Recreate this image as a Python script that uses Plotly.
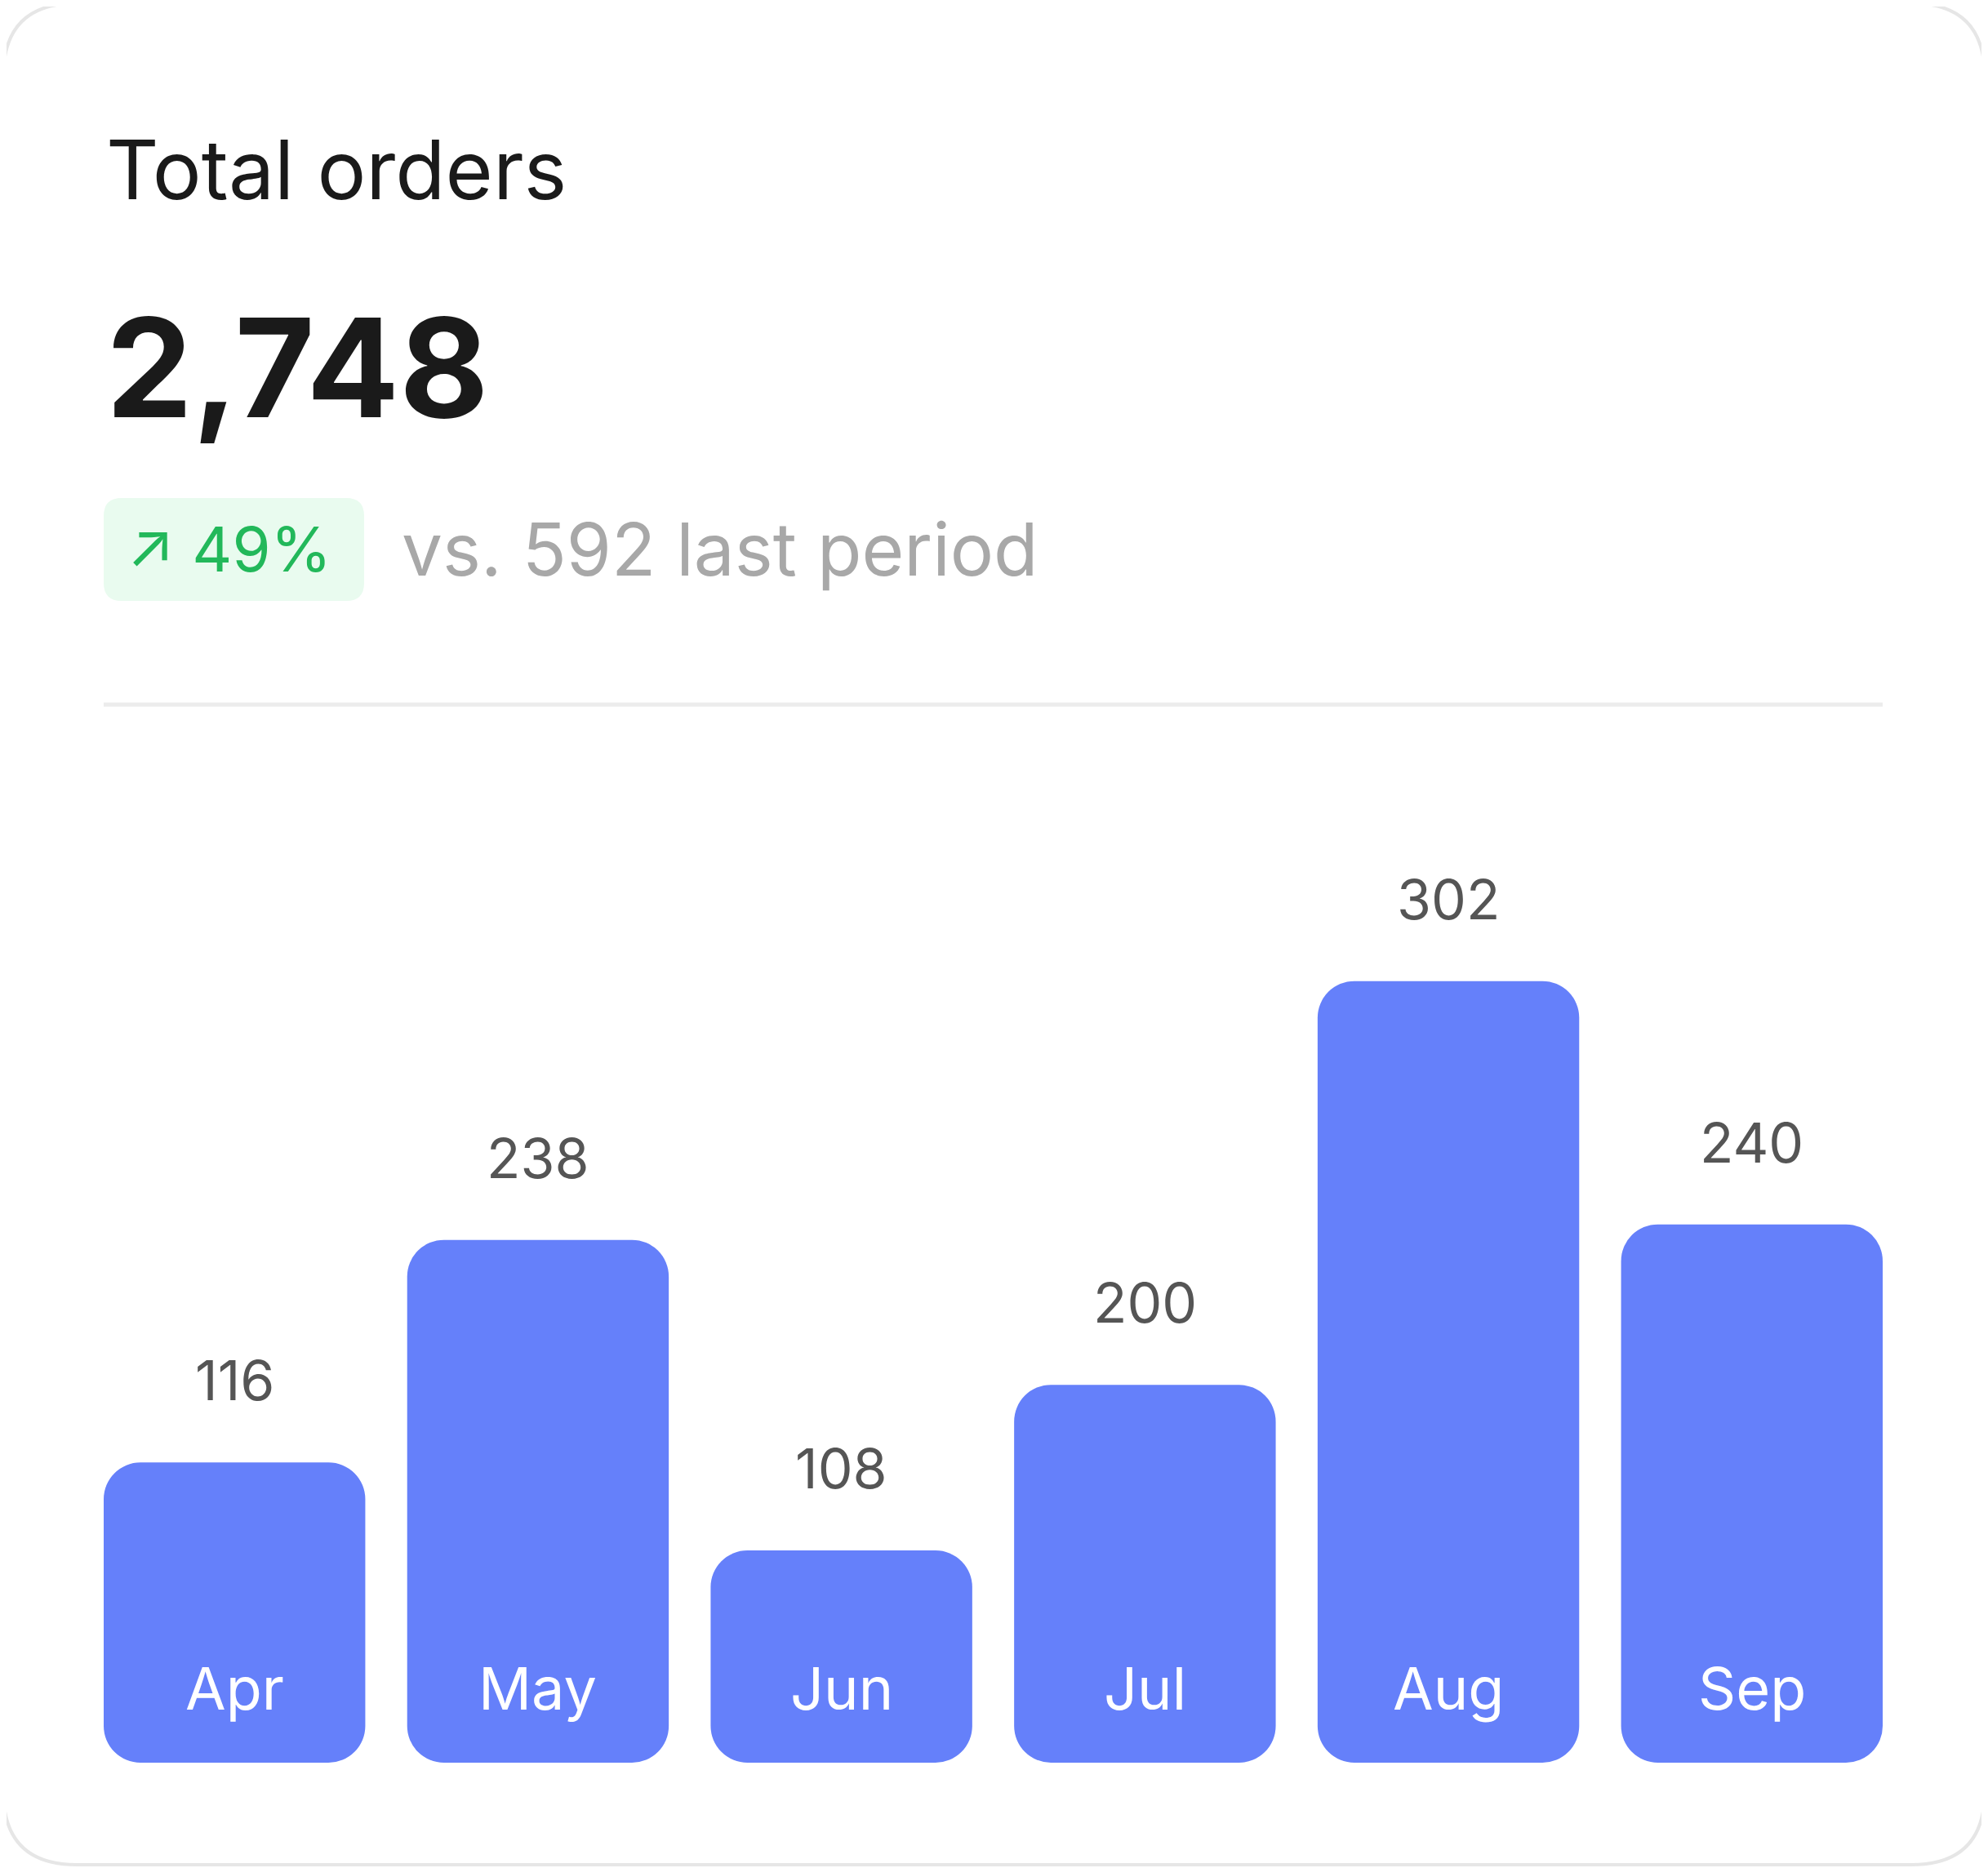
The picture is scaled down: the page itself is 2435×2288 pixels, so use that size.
import plotly.graph_objects as go

months = ["Apr", "May", "Jun", "Jul", "Aug", "Sep"]
orders = [116, 238, 108, 200, 302, 240]
# drawn bar heights as they appear in the picture (same units as the Aug bar)
bar_heights = [116, 202, 82, 146, 302, 208]
total_label = "2,748"
change_label = "↗ 49%"
compare_label = "vs. 592 last period"

W, H = 2435, 2288
OFF = 8  # page margin compensation
BLUE = "#6580fa"

fig = go.Figure()
fig.add_trace(go.Bar(x=months, y=bar_heights, base=[0] * len(months),
                     marker=dict(color=BLUE, cornerradius=45, line=dict(width=0)),
                     hoverinfo="skip"))

def px(x):
    return (x - OFF) / W

def py(y):
    return 1 - (y - OFF) / H

ann = []
for m, v, h in zip(months, orders, bar_heights):
    ann.append(dict(x=m, y=h, text=str(v), showarrow=False, yanchor="bottom", yshift=58,
                    font=dict(family="Inter", size=68, color="#555555")))
    ann.append(dict(x=m, y=29, text=m, showarrow=False, yanchor="middle",
                    font=dict(family="Inter", size=72, color="white")))

ann += [
    dict(xref="paper", yref="paper", x=px(128), y=py(207), text="Total orders",
         xanchor="left", yanchor="middle", showarrow=False,
         font=dict(family="Inter", size=100, color="#1a1a1a")),
    dict(xref="paper", yref="paper", x=px(128), y=py(450), text="<b>" + total_label + "</b>",
         xanchor="left", yanchor="middle", showarrow=False,
         font=dict(family="Inter", size=168, color="#1a1a1a")),
    dict(xref="paper", yref="paper", x=px(280), y=py(672), text=change_label,
         xanchor="center", yanchor="middle", showarrow=False,
         font=dict(family="Inter", size=76, color="#22b85a")),
    dict(xref="paper", yref="paper", x=px(490), y=py(672), text=compare_label,
         xanchor="left", yanchor="middle", showarrow=False,
         font=dict(family="Inter", size=89, color="#a8a8a8")),
]

def rrect(x0, y0, x1, y1, r):
    rx, ry = r / W, r / H
    X0, X1 = px(x0), px(x1)
    Y0, Y1 = py(y1), py(y0)
    return (f"M{X0+rx},{Y0} L{X1-rx},{Y0} Q{X1},{Y0} {X1},{Y0+ry} L{X1},{Y1-ry} "
            f"Q{X1},{Y1} {X1-rx},{Y1} L{X0+rx},{Y1} Q{X0},{Y1} {X0},{Y1-ry} "
            f"L{X0},{Y0+ry} Q{X0},{Y0} {X0+rx},{Y0} Z")

shapes = [
    dict(type="path", xref="paper", yref="paper", path=rrect(4, 4, 2431, 2284, 90),
         line=dict(color="#e6e6e6", width=4), fillcolor="white", layer="below"),
    dict(type="path", xref="paper", yref="paper", path=rrect(127, 610, 446, 736, 22),
         line=dict(width=0), fillcolor="#e9fbef", layer="below"),
    dict(type="line", xref="paper", yref="paper", x0=px(127), x1=px(2306),
         y0=py(863), y1=py(863), line=dict(color="#ececec", width=5)),
]

fig.update_layout(
    width=W, height=H, margin=dict(l=0, r=0, t=0, b=0),
    paper_bgcolor="white", plot_bgcolor="rgba(0,0,0,0)",
    bargap=0.138, showlegend=False,
    xaxis=dict(domain=[px(127), px(2306)], range=[-0.431, 5.431], visible=False),
    yaxis=dict(domain=[py(2159), py(891)], range=[0, 400], visible=False),
    annotations=ann, shapes=shapes,
)

fig.write_html("out.html")
